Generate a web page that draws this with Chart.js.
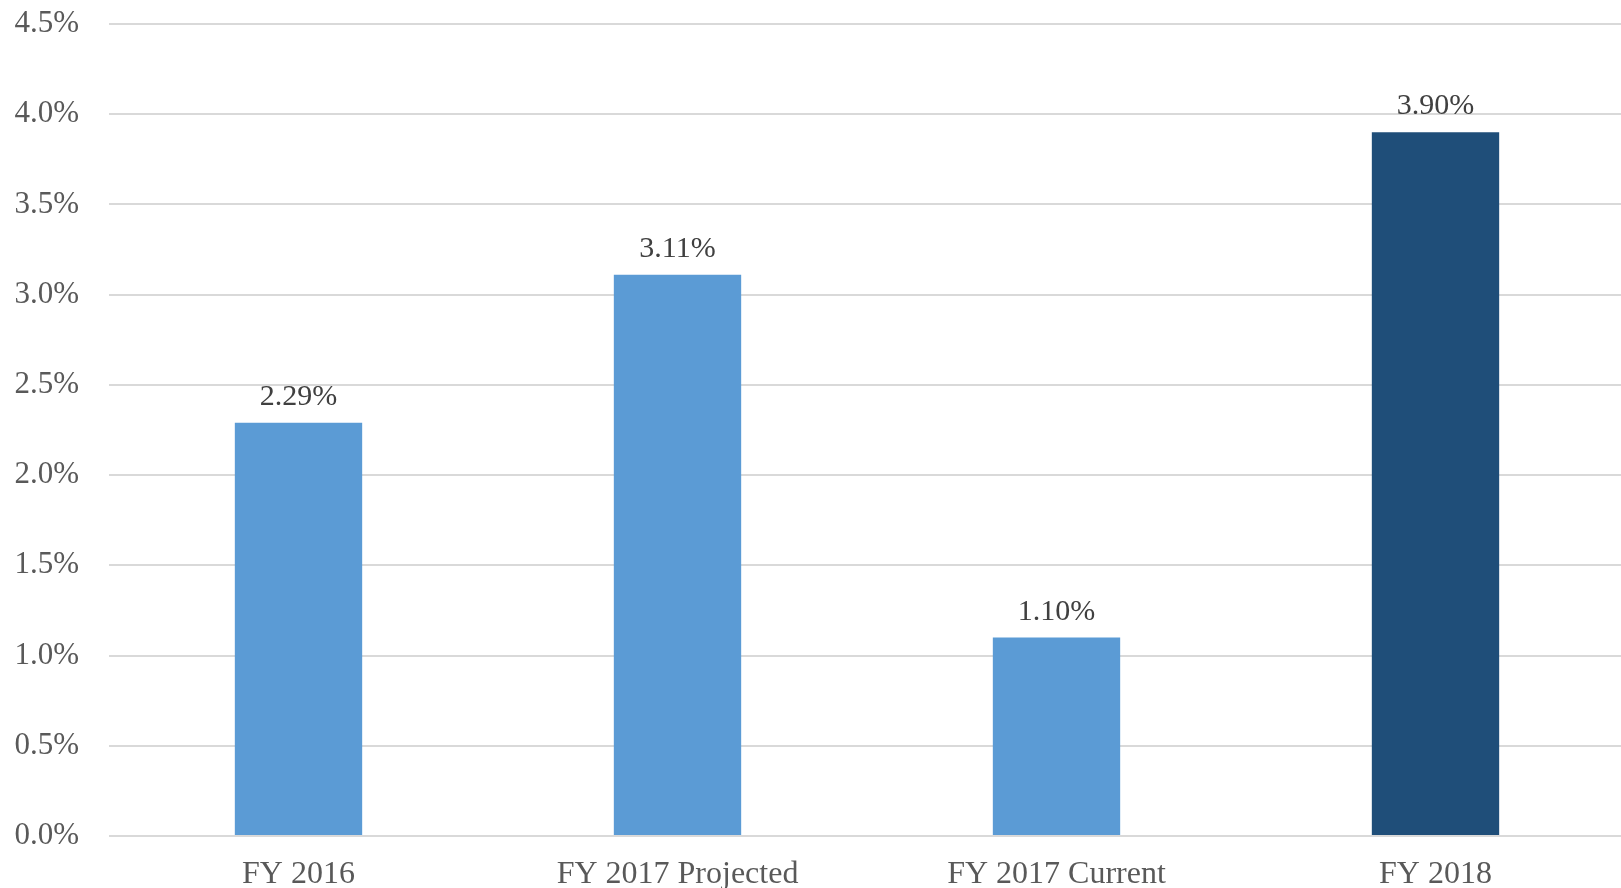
<!DOCTYPE html>
<html>
<head>
<meta charset="utf-8">
<script src="https://cdn.jsdelivr.net/npm/chart.js@4.4.1/dist/chart.umd.min.js"></script>
<style>
    html, body { margin: 0; padding: 0; background: #fff; overflow: hidden; }
    #chartContainer { width: 1625px; height: 888px; }
</style>
</head>
<body>
<div id="chartContainer"><canvas id="chart"></canvas></div>
<script>
const categories = ['FY 2016', 'FY 2017 Projected', 'FY 2017 Current', 'FY 2018'];
const rateValues = [2.29, 3.11, 1.10, 3.90];
const barColors = ['#5B9BD5', '#5B9BD5', '#5B9BD5', '#1F4E79'];
const yTicks = [0, 0.5, 1.0, 1.5, 2.0, 2.5, 3.0, 3.5, 4.0, 4.5];

// draws the value above each bar
const valueLabels = {
    id: 'valueLabels',
    afterDatasetsDraw: function(chart) {
        const ctx = chart.ctx;
        const meta = chart.getDatasetMeta(0);
        ctx.save();
        ctx.font = '30px "Liberation Serif", "Times New Roman", serif';
        ctx.fillStyle = '#404040';
        ctx.textAlign = 'center';
        ctx.textBaseline = 'alphabetic';
        meta.data.forEach(function(bar, i) {
            ctx.fillText(rateValues[i].toFixed(2) + '%', bar.x, bar.y - 18);
        });
        ctx.restore();
    }
};

const ctx = document.getElementById('chart').getContext('2d');
const chart = new Chart(ctx, {
    type: 'bar',
    data: {
        labels: categories,
        datasets: [{
            data: rateValues,
            backgroundColor: barColors,
            borderWidth: 0,
            categoryPercentage: 1,
            barPercentage: 0.336
        }]
    },
    options: {
        responsive: true,
        maintainAspectRatio: false,
        animation: false,
        layout: { padding: { top: 24, left: 0, right: 0, bottom: 0 } },
        plugins: {
            legend: { display: false },
            tooltip: { enabled: false }
        },
        scales: {
            x: {
                border: { display: false },
                grid: { display: false, drawTicks: false },
                ticks: {
                    color: '#595959',
                    padding: 19,
                    font: { family: '"Liberation Serif", "Times New Roman", serif', size: 32 }
                },
                afterFit: function(axis) { axis.height = 52; }
            },
            y: {
                min: 0,
                max: 4.5,
                border: { display: false },
                // tick marks are invisible, they only push the labels 30px left of the plot
                grid: { color: '#d9d9d9', lineWidth: 2, drawTicks: true, tickLength: 30, tickColor: 'rgba(0,0,0,0)' },
                afterBuildTicks: function(axis) {
                    axis.ticks = yTicks.map(function(v) { return { value: v }; });
                },
                ticks: {
                    color: '#595959',
                    padding: 0,
                    font: { family: '"Liberation Serif", "Times New Roman", serif', size: 31 },
                    callback: function(value) { return value.toFixed(1) + '%'; }
                },
                afterFit: function(axis) { axis.width = 109; }
            }
        }
    },
    plugins: [valueLabels]
});
</script>
</body>
</html>
